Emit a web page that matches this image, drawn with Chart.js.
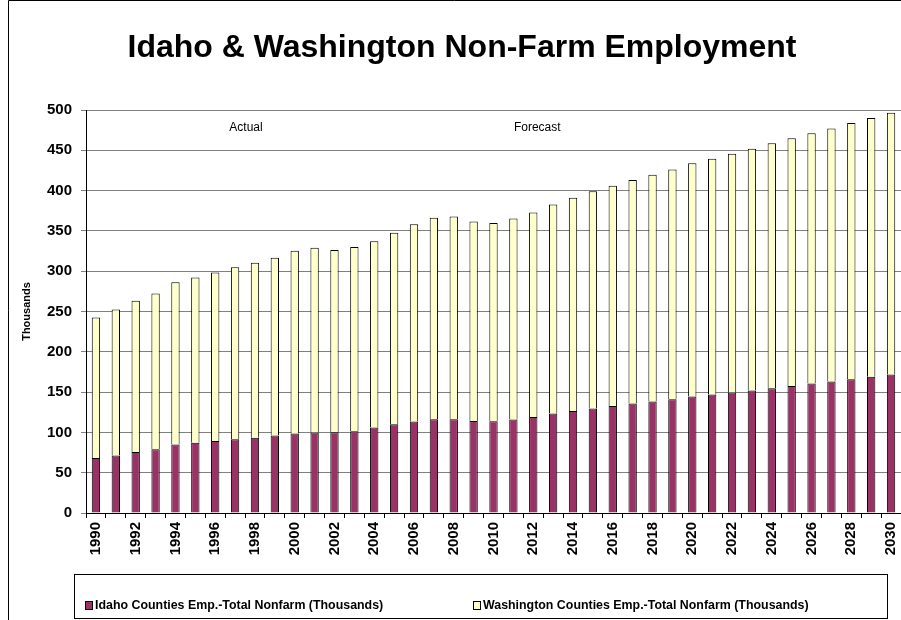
<!DOCTYPE html>
<html>
<head>
<meta charset="utf-8">
<script src="https://cdn.jsdelivr.net/npm/chart.js@4"></script>
<style>
  html, body { margin: 0; padding: 0; background: #fff; }
  #wrap { width: 901px; height: 620px; position: relative; }
</style>
</head>
<body>
<div id="wrap"><canvas id="empChart" width="901" height="620"></canvas></div>
<script>
// Data (thousands)
const years = [];
for (let y = 1990; y <= 2030; y++) years.push(String(y));

const idaho = [68.3, 71.2, 75.7, 79.0, 84.9, 87.3, 89.4, 91.5, 93.5, 96.0,
  98.7, 99.8, 100.2, 101.4, 106.0, 110.1, 113.4, 116.3, 116.3, 114.2,
  113.8, 115.9, 119.2, 123.3, 126.7, 129.6, 132.9, 135.8, 138.2, 141.1,
  144.5, 147.0, 149.4, 151.9, 154.8, 157.7, 160.6, 163.1, 166.0, 168.9, 171.8];

const washington = [174.2, 181.3, 187.5, 193.4, 201.5, 204.9, 209.0, 213.5, 216.9, 220.6,
  226.8, 229.2, 226.0, 228.5, 231.3, 237.6, 245.0, 250.0, 251.7, 247.6,
  245.9, 249.6, 253.7, 259.6, 264.4, 269.6, 273.1, 277.2, 281.5, 285.2,
  289.3, 292.6, 296.4, 300.1, 303.8, 307.1, 310.4, 314.1, 317.9, 321.1, 324.9];

const titleText = 'Idaho & Washington Non-Farm Employment';
const yTitle = 'Thousands';
const notes = [{ text: 'Actual', at: 7.55 }, { text: 'Forecast', at: 22.2 }];

const FONT = 'Arial, "Liberation Sans", sans-serif';

// frame, title, notes and boxed legend
const decorations = {
  id: 'decorations',
  beforeDraw(chart) {
    const c = chart.ctx;
    c.save();
    c.fillStyle = '#fff';
    c.fillRect(0, 0, chart.width, chart.height);
    c.strokeStyle = '#000';
    c.lineWidth = 1;
    c.beginPath();
    c.moveTo(8.5, chart.height);
    c.lineTo(8.5, 0.5);
    c.lineTo(chart.width, 0.5);
    c.stroke();
    c.restore();
  },
  afterDraw(chart) {
    const c = chart.ctx;
    const xs = chart.scales.x;
    c.save();
    c.fillStyle = '#000';
    c.textAlign = 'center';
    c.textBaseline = 'alphabetic';
    c.font = 'bold 32px ' + FONT;
    c.fillText(titleText, 462, 57);

    c.textBaseline = 'middle';
    c.font = '12px ' + FONT;
    notes.forEach(n => c.fillText(n.text, xs.getPixelForValue(n.at), 128));

    // legend box
    c.strokeStyle = '#000';
    c.lineWidth = 1;
    c.strokeRect(74.5, 574.5, 813, 44);
    c.textAlign = 'left';
    c.font = 'bold 12.4px ' + FONT;
    const pos = [85, 473];
    chart.data.datasets.forEach((ds, i) => {
      c.fillStyle = ds.backgroundColor;
      c.fillRect(pos[i] + 0.5, 601.5, 7, 8);
      c.strokeRect(pos[i] + 0.5, 601.5, 7, 8);
      c.fillStyle = '#000';
      c.fillText(ds.label, pos[i] + 10, 606);
    });
    c.restore();
  }
};

const chart = new Chart(document.getElementById('empChart'), {
  type: 'bar',
  data: {
    labels: years,
    datasets: [{
      label: 'Idaho Counties Emp.-Total Nonfarm (Thousands)',
      data: idaho,
      backgroundColor: '#993366',
      borderColor: '#000',
      borderWidth: 1
    }, {
      label: 'Washington Counties Emp.-Total Nonfarm (Thousands)',
      data: washington,
      backgroundColor: '#FFFFCC',
      borderColor: '#000',
      borderWidth: 1
    }]
  },
  options: {
    responsive: false,
    animation: false,
    layout: { padding: { top: 110, left: 0, right: 0, bottom: 0 } },
    datasets: { bar: { barPercentage: 0.42, categoryPercentage: 1.0 } },
    plugins: {
      legend: { display: false },
      tooltip: { enabled: false }
    },
    scales: {
      x: {
        stacked: true,
        grid: { offset: true, drawOnChartArea: false, tickLength: 5, color: '#000' },
        border: { color: '#000' },
        ticks: {
          autoSkip: false,
          maxRotation: 90,
          minRotation: 90,
          color: '#000',
          padding: 4,
          font: { family: FONT, size: 15, weight: 'bold' },
          callback: (v, i) => (i % 2 === 0 ? years[i] : '')
        },
        afterFit(s) {
          s.height = 107;
          // plot runs right up to the edge, as in the original
          s.paddingLeft = 0;
          s.paddingRight = 0;
        }
      },
      y: {
        stacked: true,
        min: 0,
        max: 500,
        grid: { color: '#808080', tickLength: 5 },
        border: { color: '#000' },
        ticks: {
          stepSize: 50,
          color: '#000',
          padding: 9,
          font: { family: FONT, size: 15, weight: 'bold' }
        },
        title: {
          display: true,
          text: yTitle,
          color: '#000',
          padding: { top: 20, bottom: 0 },
          font: { family: FONT, size: 11, weight: 'bold' }
        },
        afterFit(s) { s.width = 86; }
      }
    }
  },
  plugins: [decorations]
});
</script>
</body>
</html>
